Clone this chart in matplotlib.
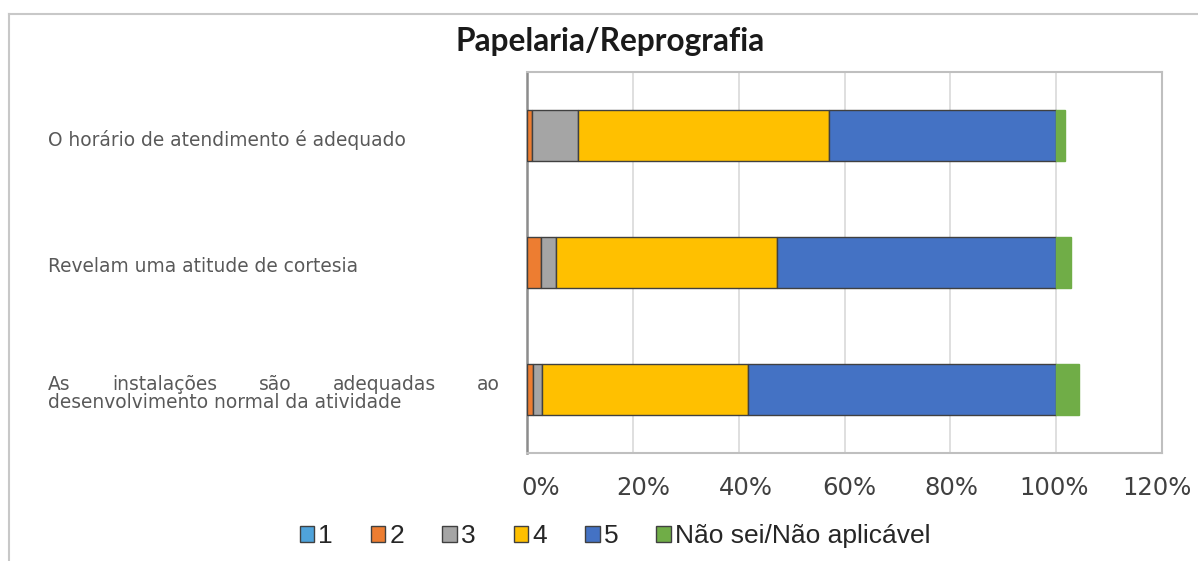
import matplotlib
matplotlib.use("Agg")
import matplotlib.pyplot as plt
import matplotlib.transforms as mtransforms
from matplotlib.lines import Line2D
from matplotlib.patches import Patch
from matplotlib.ticker import PercentFormatter, MultipleLocator

# dados (percentagens, de cima para baixo)
categorias = [
    "O horário de atendimento é adequado",
    "Revelam uma atitude de cortesia",
    "As instalações são adequadas ao desenvolvimento normal da atividade",
]
series = ["1", "2", "3", "4", "5", "Não sei/Não aplicável"]
v1 = [0.0, 0.0, 0.0]
v2 = [1.0, 2.7, 1.1]
v3 = [8.7, 2.8, 1.8]
v4 = [47.4, 41.8, 38.9]
v5 = [42.9, 52.7, 58.2]
v_ns = [1.7, 2.8, 4.3]

cores = ["#4FA3DB", "#ED7D31", "#A5A5A5", "#FFC000", "#4472C4", "#70AD47"]
valores = [v1, v2, v3, v4, v5, v_ns]

W, H, DPI = 1198, 561, 100
fig = plt.figure(figsize=(W / DPI, H / DPI), dpi=DPI)
ax = fig.add_axes([527 / W, 1 - 453 / H, (1162 - 527) / W, (453 - 72) / H])

ypos = list(range(len(categorias)))[::-1]
left = [0.0] * len(categorias)
for nome, vals, cor in zip(series, valores, cores):
    ec = cor if nome.startswith("Não") else "#404040"
    ax.barh(ypos, vals, left=left, height=0.4, color=cor, edgecolor=ec,
            linewidth=1.0, zorder=3)
    left = [a + b for a, b in zip(left, vals)]

ax.set_xlim(0, 120)
ax.set_ylim(-0.5, 2.5)
ax.xaxis.set_major_locator(MultipleLocator(20))
ax.xaxis.set_major_formatter(PercentFormatter(100, decimals=0))
ax.set_yticks([])
ax.grid(axis="x", color="#D9D9D9", linewidth=1.2, zorder=0)
ax.tick_params(axis="x", length=0, pad=16.5, labelsize=17.5, labelcolor="#404040")
# o Excel desloca os rotulos: mais a direita no inicio, mais a esquerda no fim
for pos, tick in zip(ax.get_xticks(), ax.xaxis.get_major_ticks()):
    dx = 14 - 0.158 * pos
    lab = tick.label1
    lab.set_transform(lab.get_transform() +
                      mtransforms.ScaledTranslation(dx / DPI, 0, fig.dpi_scale_trans))
for s in ["top", "right", "bottom"]:
    ax.spines[s].set_color("#BFBFBF")
    ax.spines[s].set_linewidth(1.5)
ax.spines["left"].set_color("#8C8C8C")
ax.spines["left"].set_linewidth(1.8)

# titulo
fig.text(610 / W, 1 - 42 / H, "Papelaria/Reprografia", ha="center", va="center",
         fontsize=22.8, fontweight="bold", family="Lato", color="#1a1a1a")

# rotulos das categorias
lab_kw = dict(fontsize=13.4, color="#595959", family="DejaVu Sans")
trans = mtransforms.blended_transform_factory(fig.transFigure, ax.transData)
off_y = mtransforms.ScaledTranslation(0, -4 / DPI, fig.dpi_scale_trans)
x0, x1 = 48 / W, 500 / W
fig.text(x0, ypos[0], categorias[0], ha="left", va="center",
         transform=trans + off_y, **lab_kw)
fig.text(x0, ypos[1], categorias[1], ha="left", va="center",
         transform=trans + off_y, **lab_kw)

# terceiro rotulo justificado em duas linhas
linha1 = ["As", "instalações", "são", "adequadas", "ao"]
linha2 = "desenvolvimento normal da atividade"
renderer = fig.canvas.get_renderer()
up = mtransforms.ScaledTranslation(0, -1 / DPI, fig.dpi_scale_trans)
down = mtransforms.ScaledTranslation(0, -19 / DPI, fig.dpi_scale_trans)
palavras = [fig.text(0, ypos[2], w, ha="left", va="baseline",
                     transform=trans + up, **lab_kw) for w in linha1]
larg = [t.get_window_extent(renderer).width / W for t in palavras]
gap = (x1 - x0 - sum(larg)) / (len(linha1) - 1)
x = x0
for t, w in zip(palavras, larg):
    t.set_x(x)
    x += w + gap
fig.text(x0, ypos[2], linha2, ha="left", va="baseline", transform=trans + down,
         **lab_kw)

# legenda
handles = [Patch(facecolor=c, edgecolor="#404040", linewidth=1.0) for c in cores]
fig.legend(handles, series, loc="center", bbox_to_anchor=(615 / W, 1 - 536 / H),
           ncol=6, frameon=False, handlelength=0.55, handleheight=0.55,
           handletextpad=0.15, columnspacing=1.45, borderpad=0, borderaxespad=0,
           prop={"family": "Liberation Sans", "size": 19}, labelcolor="#262626")

# moldura exterior
fig.add_artist(Line2D([9 / W, 1], [1 - 14 / H, 1 - 14 / H], transform=fig.transFigure,
                      color="#C8C8C8", linewidth=1.5))
fig.add_artist(Line2D([9 / W, 9 / W], [0, 1 - 14 / H], transform=fig.transFigure,
                      color="#C8C8C8", linewidth=1.5))

fig.savefig("out.png", dpi=DPI, facecolor="white")
